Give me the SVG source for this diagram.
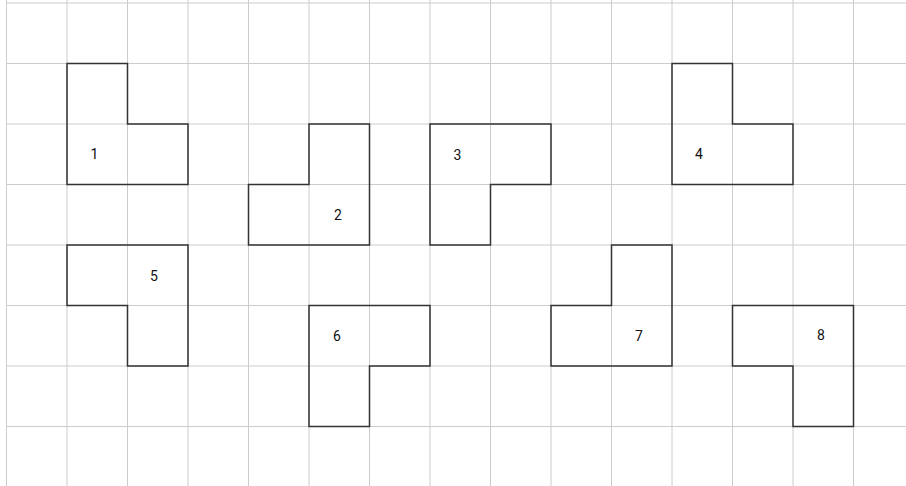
<svg xmlns="http://www.w3.org/2000/svg" width="906" height="486" viewBox="0 0 906 486">
<style>
.grid line{stroke:#cccccc;stroke-width:1}
.shape{fill:none;stroke:#333333;stroke-width:1.5;stroke-linejoin:miter}
.lbl{font-family:Roboto,"Liberation Sans",sans-serif;font-size:14px;fill:#111111;text-anchor:middle}
</style>
<rect width="906" height="486" fill="#ffffff"/>
<g id="grid" class="grid">
<line x1="6.5" y1="0" x2="6.5" y2="486"/>
<line x1="67" y1="0" x2="67" y2="486"/>
<line x1="127.5" y1="0" x2="127.5" y2="486"/>
<line x1="188" y1="0" x2="188" y2="486"/>
<line x1="248.5" y1="0" x2="248.5" y2="486"/>
<line x1="309" y1="0" x2="309" y2="486"/>
<line x1="369.5" y1="0" x2="369.5" y2="486"/>
<line x1="430" y1="0" x2="430" y2="486"/>
<line x1="490.5" y1="0" x2="490.5" y2="486"/>
<line x1="551" y1="0" x2="551" y2="486"/>
<line x1="611.5" y1="0" x2="611.5" y2="486"/>
<line x1="672" y1="0" x2="672" y2="486"/>
<line x1="732.5" y1="0" x2="732.5" y2="486"/>
<line x1="793" y1="0" x2="793" y2="486"/>
<line x1="853.5" y1="0" x2="853.5" y2="486"/>
<line x1="6.5" y1="3" x2="906" y2="3"/>
<line x1="6.5" y1="63.5" x2="906" y2="63.5"/>
<line x1="6.5" y1="124" x2="906" y2="124"/>
<line x1="6.5" y1="184.5" x2="906" y2="184.5"/>
<line x1="6.5" y1="245" x2="906" y2="245"/>
<line x1="6.5" y1="305.5" x2="906" y2="305.5"/>
<line x1="6.5" y1="366" x2="906" y2="366"/>
<line x1="6.5" y1="426.5" x2="906" y2="426.5"/>
</g>
<g id="connectors"></g>
<g id="piece1">
<path class="shape" d="M67 63.5H127.5V124H188V184.5H67Z"/>
<text class="lbl" x="94.5" y="159">1</text>
</g>
<g id="piece2">
<path class="shape" d="M309 124H369.5V245H248.5V184.5H309Z"/>
<text class="lbl" x="338" y="219.5">2</text>
</g>
<g id="piece3">
<path class="shape" d="M430 124H551V184.5H490.5V245H430Z"/>
<text class="lbl" x="457.5" y="159.5">3</text>
</g>
<g id="piece4">
<path class="shape" d="M672 63.5H732.5V124H793V184.5H672Z"/>
<text class="lbl" x="699" y="159">4</text>
</g>
<g id="piece5">
<path class="shape" d="M67 245H188V366H127.5V305.5H67Z"/>
<text class="lbl" x="154" y="281">5</text>
</g>
<g id="piece6">
<path class="shape" d="M309 305.5H430V366H369.5V426.5H309Z"/>
<text class="lbl" x="337" y="340.5">6</text>
</g>
<g id="piece7">
<path class="shape" d="M611.5 245H672V366H551V305.5H611.5Z"/>
<text class="lbl" x="639" y="340.5">7</text>
</g>
<g id="piece8">
<path class="shape" d="M732.5 305.5H853.5V426.5H793V366H732.5Z"/>
<text class="lbl" x="821" y="340">8</text>
</g>
</svg>
